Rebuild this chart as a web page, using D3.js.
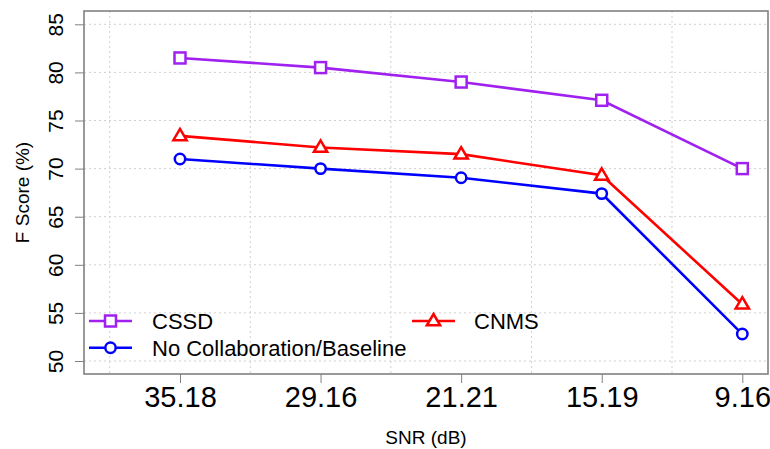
<!DOCTYPE html>
<html><head><meta charset="utf-8">
<script src="https://cdn.jsdelivr.net/npm/d3@7"></script>
<style>
html,body{margin:0;padding:0;background:#fff;}
svg{display:block;font-family:"Liberation Sans",Arial,sans-serif;}
</style></head>
<body>
<svg id="chart" width="770" height="449"></svg>
<script>
const categories = ["35.18","29.16","21.21","15.19","9.16"];
const cssd = [81.5, 80.5, 79.0, 77.1, 70.0];
const cnms = [73.4, 72.2, 71.5, 69.3, 55.9];
const baseline = [71.0, 70.0, 69.05, 67.4, 52.8];
const yTicks = [50, 55, 60, 65, 70, 75, 80, 85];

const series = [
  {name:"CSSD", values:cssd, color:"#A020F0", shape:"square"},
  {name:"No Collaboration/Baseline", values:baseline, color:"#0000FF", shape:"circle"},
  {name:"CNMS", values:cnms, color:"#FF0000", shape:"triangle"}
];

const svg = d3.select("#chart");
const box = {left:84, right:768, top:11, bottom:374};

const x = d3.scalePoint().domain(categories).range([180, 742.3]);
const y = d3.scaleLinear().domain([50, 85]).range([361, 24.3]);
const step = x.step();

// grid
const grid = svg.append("g").attr("stroke","#d0d0d0").attr("stroke-width",1).attr("stroke-dasharray","2,3");
yTicks.forEach(t => grid.append("line").attr("x1",box.left).attr("x2",box.right).attr("y1",y(t)).attr("y2",y(t)));
categories.forEach(c => grid.append("line").attr("x1",x(c)-step/2).attr("x2",x(c)-step/2).attr("y1",box.top).attr("y2",box.bottom));

// axes
const yAxis = d3.axisLeft(y).tickValues(yTicks).tickSize(9).tickPadding(12);
const gy = svg.append("g").attr("transform",`translate(${box.left},0)`).call(yAxis);
gy.select(".domain").remove();
gy.selectAll("line").attr("stroke","#808080");
gy.selectAll("text").attr("font-size",21).attr("fill","#000")
  .attr("text-anchor","middle").attr("dy",null)
  .attr("transform","translate(-21,0) rotate(-90)")
  .attr("x",0).attr("y",0);

const xAxis = d3.axisBottom(x).tickSize(9).tickPadding(3);
const gx = svg.append("g").attr("transform",`translate(0,${box.bottom})`).call(xAxis);
gx.select(".domain").remove();
gx.selectAll("line").attr("stroke","#808080");
gx.selectAll("text").attr("font-size",29).attr("fill","#000").attr("dy","0.71em").attr("y",12);

// box
svg.append("rect").attr("x",box.left).attr("y",box.top)
  .attr("width",box.right-box.left).attr("height",box.bottom-box.top)
  .attr("fill","none").attr("stroke","#808080").attr("stroke-width",1.6);

// titles
svg.append("text").attr("x",(box.left+box.right)/2).attr("y",444)
  .attr("text-anchor","middle").attr("font-size",19).text("SNR (dB)");
svg.append("text").attr("transform",`translate(29,${(box.top+box.bottom)/2}) rotate(-90)`)
  .attr("text-anchor","middle").attr("font-size",19).text("F Score (%)");

function marker(g, shape, cx, cy, color){
  if(shape==="square"){
    g.append("rect").attr("x",cx-5.5).attr("y",cy-5.5).attr("width",11).attr("height",11)
      .attr("fill","#fff").attr("stroke",color).attr("stroke-width",2.5);
  } else if(shape==="circle"){
    g.append("circle").attr("cx",cx).attr("cy",cy).attr("r",5.2)
      .attr("fill","#fff").attr("stroke",color).attr("stroke-width",2.5);
  } else {
    const s=7;
    g.append("path").attr("d",`M${cx},${cy-s} L${cx+s*0.95},${cy+s*0.62} L${cx-s*0.95},${cy+s*0.62}Z`)
      .attr("fill","#fff").attr("stroke",color).attr("stroke-width",2.5);
  }
}

const line = d3.line().x((d,i)=>x(categories[i])).y(d=>y(d));
series.forEach(s=>{
  const g = svg.append("g");
  g.append("path").datum(s.values).attr("d",line).attr("fill","none")
    .attr("stroke",s.color).attr("stroke-width",2.6);
  s.values.forEach((v,i)=>marker(g,s.shape,x(categories[i]),y(v),s.color));
});

// legend
const legendPos = [
  {lx:89, ly:321, tx:152},
  {lx:89, ly:347.7, tx:152},
  {lx:412, ly:321, tx:474}
];
series.forEach((s,i)=>{
  const p = legendPos[i];
  const g = svg.append("g");
  g.append("line").attr("x1",p.lx).attr("x2",p.lx+43).attr("y1",p.ly).attr("y2",p.ly)
    .attr("stroke",s.color).attr("stroke-width",2.6);
  marker(g,s.shape,p.lx+21.5,p.ly,s.color);
  g.append("text").attr("x",p.tx).attr("y",p.ly).attr("dy","0.36em")
    .attr("font-size",22).text(s.name);
});
</script>
</body></html>
